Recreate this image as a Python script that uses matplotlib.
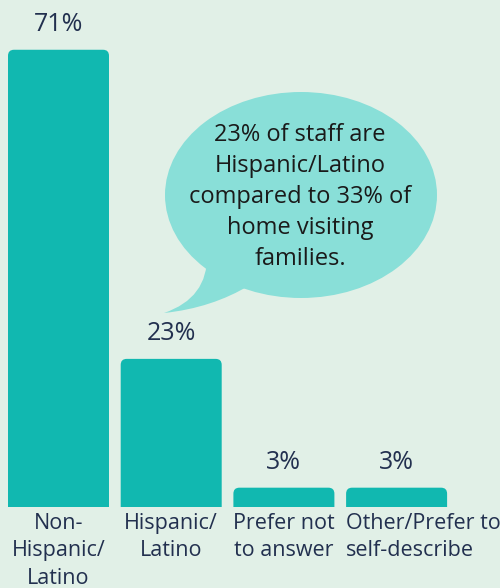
import matplotlib.pyplot as plt
from matplotlib.patches import FancyBboxPatch, Rectangle, Ellipse, PathPatch
from matplotlib.path import Path

# Data
categories = ['Non-\nHispanic/\nLatino', 'Hispanic/\nLatino', 'Prefer not\nto answer', 'Other/Prefer to\nself-describe']
values = [71, 23, 3, 3]
value_labels = ['71%', '23%', '3%', '3%']
callout = '23% of staff are\nHispanic/Latino\ncompared to 33% of\nhome visiting\nfamilies.'

# Styles
BG = '#e1f0e7'
BAR = '#11b8b0'
BUBBLE = '#89dfd8'
NAVY = '#22304f'
W, H = 500, 588

plt.rcParams['font.family'] = ['Open Sans', 'DejaVu Sans']
fig = plt.figure(figsize=(W / 100, H / 100), dpi=100, facecolor=BG)
ax = fig.add_axes([0, 0, 1, 1])
ax.set_facecolor(BG)

# scale: bar pitch ~112.7px, 6.44px per percent, baseline 507px from top
px_x = 112.7
px_y = 6.44
ax.set_xlim(-58.5 / px_x, (W - 58.5) / px_x)
ax.set_ylim(-(H - 507) / px_y, 507 / px_y)
ax.axis('off')

bar_w = 101 / px_x
clip = Rectangle((-5, 0), 20, 200, transform=ax.transData)
for i, v in enumerate(values):
  p = FancyBboxPatch((i - bar_w / 2, -5), bar_w, v + 5,
                     boxstyle='round,pad=0,rounding_size=%f' % (6 / px_x),
                     mutation_aspect=px_x / px_y,
                     fc=BAR, ec='none')
  ax.add_patch(p)
  p.set_clip_path(clip)
  ax.annotate(value_labels[i], (i, v), xytext=(0, 25), textcoords='offset pixels',
              ha='center', va='center', fontsize=18, color=NAVY)
  # long labels overflow to the right of the bar, as in the original
  if len(categories[i].split('\n')[0]) > 12:
    ax.annotate(categories[i], (i - bar_w / 2, 0), xytext=(0, -6), textcoords='offset pixels',
                ha='left', va='top', fontsize=15.5, color=NAVY, linespacing=1.4,
                multialignment='left')
  else:
    ax.annotate(categories[i], (i, 0), xytext=(0, -6), textcoords='offset pixels',
                ha='center', va='top', fontsize=15.5, color=NAVY, linespacing=1.4)

# speech bubble
def fx(px): return px / W
def fy(py): return 1 - py / H
ell = Ellipse((fx(301), fy(195)), 272 / W, 206 / H, transform=fig.transFigure,
              fc=BUBBLE, ec='none')
fig.patches.append(ell)
verts = [(fx(207), fy(255)), (fx(208), fy(298)), (fx(164), fy(313)),
         (fx(212), fy(308)), (fx(250), fy(285)), (fx(207), fy(255))]
codes = [Path.MOVETO, Path.CURVE3, Path.CURVE3, Path.CURVE3, Path.CURVE3, Path.CLOSEPOLY]
tail = PathPatch(Path(verts, codes), transform=fig.transFigure, fc=BUBBLE, ec='none')
fig.patches.append(tail)
fig.text(fx(300), fy(197), callout, ha='center', va='center', fontsize=17,
         color='#1a1a1a', linespacing=1.38)

plt.savefig('out.png', dpi=100, facecolor=BG)
